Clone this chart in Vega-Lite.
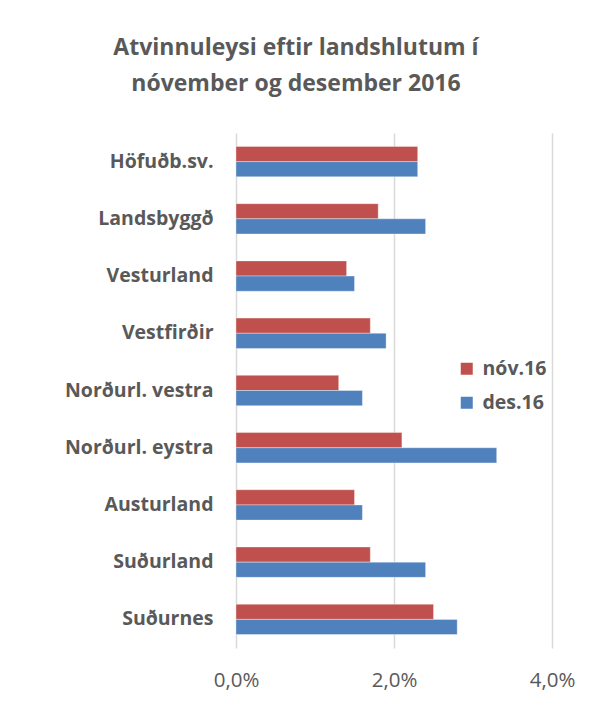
{
  "$schema": "https://vega.github.io/schema/vega-lite/v6.json",
  "autosize": "none",
  "padding": {"left": 236, "top": 133, "right": 39, "bottom": 65},
  "width": 316,
  "height": 515,
  "background": "white",
  "title": {
    "text": ["Atvinnuleysi eftir landshlutum í", "nóvember og desember 2016"],
    "font": "Open Sans",
    "fontSize": 23,
    "fontWeight": "bold",
    "color": "#595959",
    "anchor": "middle",
    "dx": -98,
    "offset": 37,
    "lineHeight": 36
  },
  "data": {
    "values": [
      {"region": "Höfuðb.sv.", "series": "nóv.16", "value": 0.023},
      {"region": "Höfuðb.sv.", "series": "des.16", "value": 0.023},
      {"region": "Landsbyggð", "series": "nóv.16", "value": 0.018},
      {"region": "Landsbyggð", "series": "des.16", "value": 0.024},
      {"region": "Vesturland", "series": "nóv.16", "value": 0.014},
      {"region": "Vesturland", "series": "des.16", "value": 0.015},
      {"region": "Vestfirðir", "series": "nóv.16", "value": 0.017},
      {"region": "Vestfirðir", "series": "des.16", "value": 0.019},
      {"region": "Norðurl. vestra", "series": "nóv.16", "value": 0.013},
      {"region": "Norðurl. vestra", "series": "des.16", "value": 0.016},
      {"region": "Norðurl. eystra", "series": "nóv.16", "value": 0.021},
      {"region": "Norðurl. eystra", "series": "des.16", "value": 0.033},
      {"region": "Austurland", "series": "nóv.16", "value": 0.015},
      {"region": "Austurland", "series": "des.16", "value": 0.016},
      {"region": "Suðurland", "series": "nóv.16", "value": 0.017},
      {"region": "Suðurland", "series": "des.16", "value": 0.024},
      {"region": "Suðurnes", "series": "nóv.16", "value": 0.025},
      {"region": "Suðurnes", "series": "des.16", "value": 0.028}
    ]
  },
  "mark": {"type": "bar", "stroke": "#ffffff", "strokeOpacity": 0.35, "strokeWidth": 1},
  "encoding": {
    "y": {
      "field": "region",
      "type": "nominal",
      "sort": null,
      "title": null,
      "scale": {"paddingInner": 0.47, "paddingOuter": 0.235},
      "axis": {
        "domain": false,
        "ticks": false,
        "grid": false,
        "labelPadding": 23,
        "labelFont": "Open Sans",
        "labelFontSize": 19.5,
        "labelFontWeight": "bold",
        "labelColor": "#595959"
      }
    },
    "yOffset": {
      "field": "series",
      "type": "nominal",
      "scale": {"domain": ["nóv.16", "des.16"], "paddingInner": 0, "paddingOuter": 0}
    },
    "x": {
      "field": "value",
      "type": "quantitative",
      "title": null,
      "scale": {"domain": [0, 0.04], "nice": false},
      "axis": {
        "values": [0, 0.02, 0.04],
        "format": ".1%",
        "domain": false,
        "ticks": false,
        "grid": true,
        "gridColor": "#d9d9d9",
        "gridWidth": 1.5,
        "labelPadding": 22,
        "labelFont": "Open Sans",
        "labelFontSize": 20.5,
        "labelColor": "#595959",
        "labelFlush": false
      }
    },
    "color": {
      "field": "series",
      "type": "nominal",
      "scale": {"domain": ["nóv.16", "des.16"], "range": ["#C0504D", "#4F81BD"]},
      "legend": {
        "title": null,
        "orient": "none",
        "legendX": 221,
        "legendY": 226,
        "padding": 0,
        "symbolType": "square",
        "symbolSize": 144,
        "symbolStrokeWidth": 0,
        "labelFont": "Open Sans",
        "labelFontSize": 19.5,
        "labelFontWeight": "bold",
        "labelColor": "#595959",
        "labelOffset": 6,
        "rowPadding": 13
      }
    }
  },
  "config": {
    "view": {"stroke": null},
    "locale": {
      "number": {"decimal": ",", "thousands": ".", "grouping": [3], "currency": ["", " kr."]}
    }
  }
}
